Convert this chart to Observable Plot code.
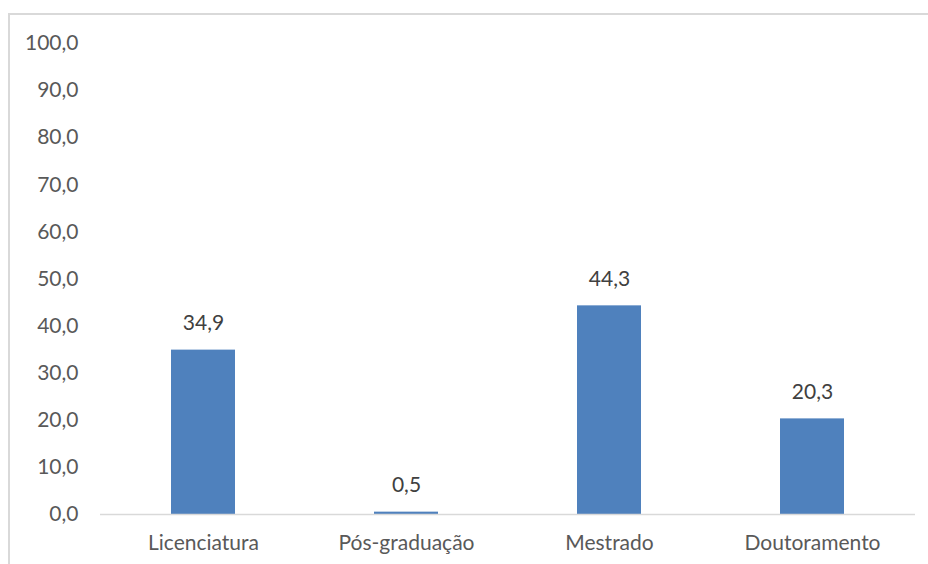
<!DOCTYPE html>
<html>
<head>
<meta charset="utf-8">
<script src="https://cdn.jsdelivr.net/npm/d3@7"></script>
<script src="https://cdn.jsdelivr.net/npm/@observablehq/plot@0.6"></script>
<style>
  html, body { margin: 0; padding: 0; background: #fff; }
  #wrap { position: relative; width: 928px; height: 564px; overflow: hidden; }
  #frame { position: absolute; left: 8px; top: 13px; width: 1000px; height: 700px; border: 2px solid #d9d9d9; box-sizing: border-box; pointer-events: none; }
  #chart { position: absolute; left: 0; top: 0; }
</style>
</head>
<body>
<div id="wrap"><div id="frame"></div><div id="chart"></div></div>
<script>
const categories = ["Licenciatura", "Pós-graduação", "Mestrado", "Doutoramento"];
const values = [34.9, 0.5, 44.3, 20.3];
const yTicks = [0, 10, 20, 30, 40, 50, 60, 70, 80, 90, 100];

const data = categories.map((c, i) => ({category: c, value: values[i]}));
const fmt = d => d.toFixed(1).replace(".", ",");

const chart = Plot.plot({
  width: 928,
  height: 564,
  marginTop: 43,
  marginBottom: 50,
  marginLeft: 100,
  marginRight: 13,
  style: {fontFamily: "Lato, sans-serif", fontSize: "21px", color: "#595959", background: "transparent"},
  x: {domain: categories, paddingInner: 0.686, paddingOuter: 0.343, label: null},
  y: {domain: [0, 100], label: null},
  marks: [
    Plot.axisY({ticks: yTicks, tickFormat: fmt, tickSize: 0, tickPadding: 22, fontSize: 21, fill: "#595959"}),
    Plot.axisX({tickSize: 0, tickPadding: 21, fontSize: 21, fill: "#595959"}),
    Plot.barY(data, {x: "category", y: "value", fill: "#4f81bd"}),
    Plot.ruleY([0], {stroke: "#d9d9d9", strokeWidth: 1.5}),
    Plot.text(data, {x: "category", y: "value", text: d => fmt(d.value), dy: -27, fill: "#404040", fontSize: 21})
  ]
});
document.getElementById("chart").appendChild(chart);
</script>
</body>
</html>
